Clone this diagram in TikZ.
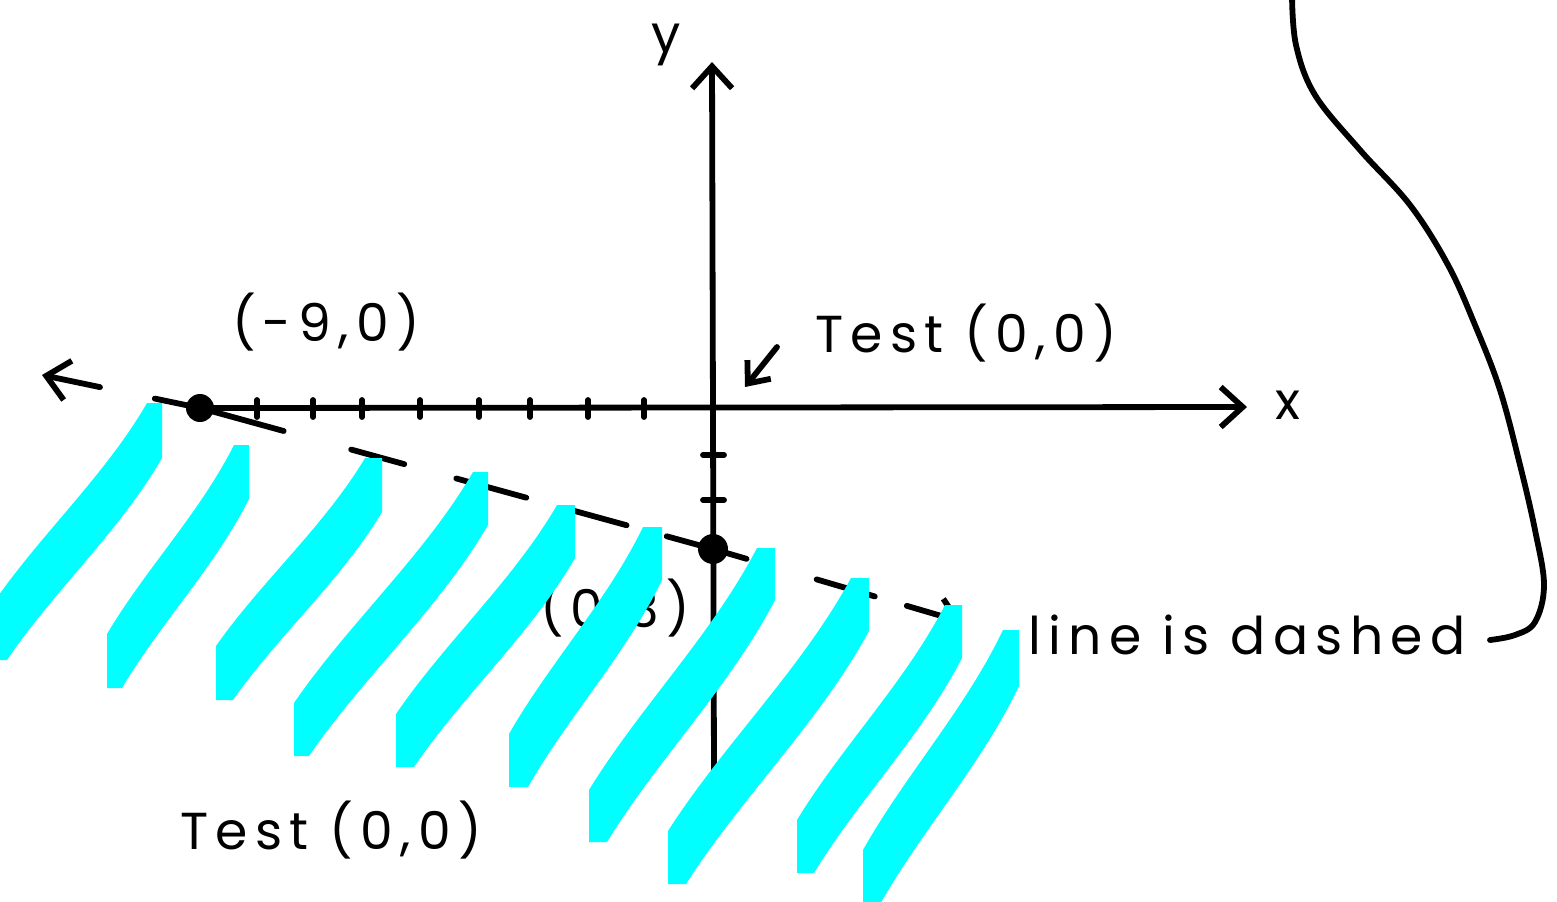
\documentclass[tikz,border=0pt]{standalone}
\usepackage{fontspec}
\setmainfont{Poppins}
\newfontfamily\hand{Poppins}[LetterSpace=14]
\usetikzlibrary{arrows.meta}
\definecolor{aqua}{RGB}{0,255,255}
\tikzset{
  ink/.style={line width=2.9pt, line cap=round, line join=round, draw=black},
  barb/.style={-{Straight Barb[length=11pt,width=20pt]}},
  axisline/.style={ink, barb},
  dashline/.style={ink, {Straight Barb[length=11pt,width=20pt]}-{Straight Barb[length=10pt,width=17pt]},
    dash pattern=on 26pt off 28pt on 66.5pt off 35pt on 27.5pt off 27pt on 36.3pt off 25pt on 27pt off 20.8pt on 41.5pt off 36.5pt on 30.3pt off 16.7pt on 32.5pt off 30pt},
  dotnode/.style={circle, fill=black, inner sep=0pt, minimum size=#1},
  lbl/.style={font=\hand\fontsize{26}{30}\selectfont, inner sep=0pt, text=black},
  biglbl/.style={font=\hand\fontsize{26}{31}\selectfont, inner sep=0pt, text=black},
  tickmark/.style={ink}
}
\newcommand{\cyanband}[6]{%
  \fill[aqua] (#1,#2) -- ({#1+#5},#2) -- ({#1+#5},{#2+#6})
    .. controls ({#1+#5+0.27*(#3-#1)},{#2+#6+0.36*(#4-#2)}) and ({#3+#5-0.30*(#3-#1)},{#4+#6-0.34*(#4-#2)}) .. ({#3+#5},{#4+#6})
    -- (#3,{#4+#6}) -- (#3,#4)
    .. controls ({#3-0.30*(#3-#1)},{#4-0.34*(#4-#2)}) and ({#1+0.27*(#3-#1)},{#2+0.36*(#4-#2)}) .. (#1,#2) -- cycle;}
\begin{document}
\begin{tikzpicture}[x=0.5pt, y=-0.5pt]
\useasboundingbox (0,0) rectangle (1557,901);
\clip (0,0) rectangle (1557,901);

% labels
\node[lbl] (lm9) at (326,322) {(-9,0)};
\node[lbl] (t1) at (966,333) {Test (0,0)};
\node[lbl] (l03) at (615,608) {(0,3)};
\node[biglbl] (ld) at (1247,635) {line is dashed};
\node[lbl] (t2) at (331,830) {Test (0,0)};
\node[biglbl] (xl) at (1288,405) {x};
\node[biglbl] (yl) at (666,45) {y};

% coordinates
\coordinate (xend) at (1247,407);
\coordinate (ybot) at (714,775);
\coordinate (ytop) at (712,62);
\coordinate (dl) at (42,375);
\coordinate (dr) at (962,622);
\coordinate (sa1) at (777,347);
\coordinate (sa2) at (745,387);
\coordinate (pA) at (200,408);
\coordinate (pB) at (713,549);

% axes
\draw[axisline] (pA) -- (xend);
\draw[axisline] (ybot) -- (ytop);
\foreach \x in {257,313,362,420,479,530,588,644}
  \draw[tickmark] (\x,400) -- (\x,417);
\foreach \y in {455,500}
  \draw[tickmark] (703,\y) -- (724,\y);

% dashed line
\draw[dashline] (dl) -- (pA) -- (pB) -- (dr);

% dots
\node[dotnode=14pt] (A) at (pA) {};
\node[dotnode=15pt] (B) at (pB) {};

% pointer arrow
\draw[ink, -{Straight Barb[length=9pt,width=15pt]}] (sa1) -- (sa2);

% big curve
\draw[ink] plot[smooth, tension=0.6] coordinates {(1292,-5) (1296,45) (1315,95) (1360,150) (1410,205) (1448,265) (1475,325) (1500,390) (1520,465) (1535,530) (1544,585) (1535,622) (1515,635) (1490,640)};

% cyan strokes
\cyanband{147}{403}{-8}{605}{15}{55}
\cyanband{234}{445}{107}{634}{15}{54}
\cyanband{365}{458}{216}{646}{17}{54}
\cyanband{473}{472}{294}{703}{15}{53}
\cyanband{557}{505}{396}{714}{18}{53}
\cyanband{643}{527}{509}{734}{19}{53}
\cyanband{757}{548}{589}{790}{18}{52}
\cyanband{851}{578}{668}{831}{18}{53}
\cyanband{945}{605}{797}{820}{17}{53}
\cyanband{1003}{630}{863}{850}{16}{56}
\end{tikzpicture}
\end{document}
